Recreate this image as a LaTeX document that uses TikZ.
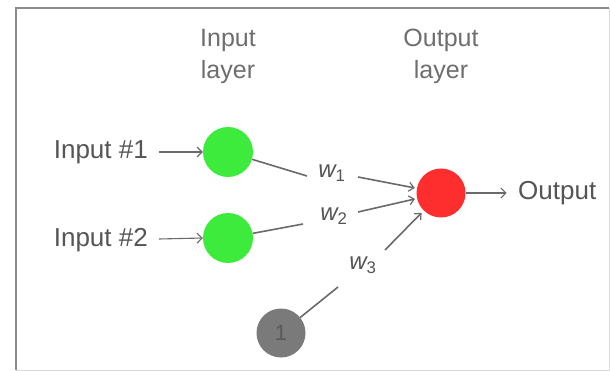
\documentclass[tikz,border=0pt]{standalone}
\usepackage{fontspec}
\setmainfont{Liberation Sans}
\usetikzlibrary{arrows.meta}
\definecolor{txt}{HTML}{555555}
\definecolor{wire}{HTML}{6A6A6A}
\definecolor{neuronin}{HTML}{3CEB3C}
\definecolor{neuronout}{HTML}{FF2E2E}
\definecolor{biasgray}{HTML}{7A7A7A}
\tikzset{
  lbl/.style={text=txt, font=\fontsize{26}{28}\selectfont, inner sep=0pt},
  head/.style={text=txt!85, font=\fontsize{25}{32}\selectfont, align=center, inner sep=0pt},
  wlbl/.style={text=txt, font=\fontsize{24}{26}\selectfont\itshape, inner sep=0pt},
  neuron/.style={circle, minimum size=50pt, inner sep=0pt, draw=none},
  link/.style={draw=wire, line width=1.6pt},
  feed/.style={draw=wire, line width=1.6pt, -{Straight Barb[length=5pt,width=9pt,line width=1.2pt]}},
  io/.style={draw=wire, line width=1.1pt, -{Straight Barb[length=5pt,width=10pt,line width=1.1pt]}}
}
\begin{document}
\begin{tikzpicture}[x=1pt, y=-1pt]
  % canvas and frame
  \useasboundingbox (0,0) rectangle (610,371);
  \fill[white] (0,0) rectangle (610,371);
  \draw[draw=black!45, line width=1.5pt] (16,370) -- (16,8) -- (609,8);
  \draw[draw=black!15, line width=1pt] (16,370) -- (609,370) -- (609,8);

  % layer headings
  \node[head] (hin) at (228,56) {Input\\layer};
  \node[head] (hout) at (441,56) {Output\\layer};

  % neurons
  \node[neuron, fill=neuronin] (g1) at (228,152) {};
  \node[neuron, fill=neuronin] (g2) at (228,238) {};
  \node[neuron, fill=neuronout, minimum size=49pt] (o) at (441,193) {};
  \node[neuron, fill=biasgray, minimum size=49pt, text=black!65,
        font=\fontsize{22}{24}\selectfont] (b) at (281,333) {1};

  % inputs and output
  \node[lbl, anchor=east] (in1) at (148,152) {Input \#1};
  \node[lbl, anchor=east] (in2) at (148,240) {Input \#2};
  \node[lbl, anchor=west] (out) at (518,193) {Output};
  \draw[io] (in1.east) ++(11,0) coordinate (in1s) (in1s) -- (g1.west);
  \draw[io] (in2.east) ++(11,-1) coordinate (in2s) (in2s) -- (g2.west);
  \draw[io] (o.east) -- ++(41,0) coordinate (oe);

  % weight labels
  \node[wlbl] (w1) at (332,173) {w\textsubscript{\upshape 1}};
  \node[wlbl] (w2) at (334,216) {w\textsubscript{\upshape 2}};
  \node[wlbl] (w3) at (363,265) {w\textsubscript{\upshape 3}};

  % weighted connections
  \coordinate (w1a) at (307,176);
  \coordinate (w1b) at (358,177);
  \coordinate (w2a) at (303,224);
  \coordinate (w2b) at (358,212);
  \coordinate (w3a) at (338,287);
  \coordinate (w3b) at (385,250);
  \draw[link] (g1) -- (w1a);
  \draw[link] (g2) -- (w2a);
  \draw[link] (b) -- (w3a);
  \draw[feed, shorten >=2pt] (w1b) -- (o);
  \draw[feed, shorten >=2pt] (w2b) -- (o);
  \draw[feed, shorten >=3pt] (w3b) -- (o);
\end{tikzpicture}
\end{document}
